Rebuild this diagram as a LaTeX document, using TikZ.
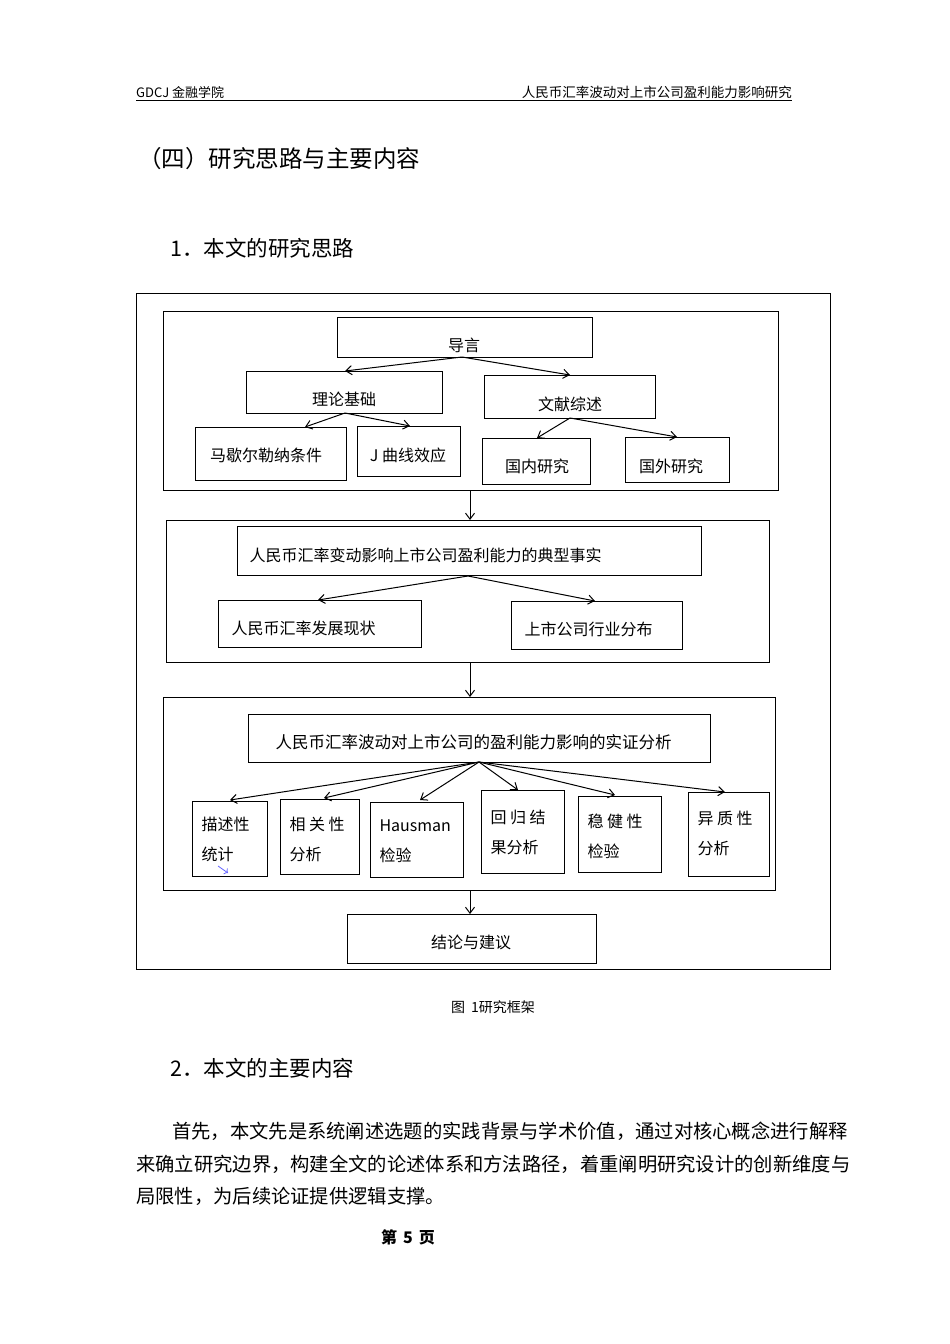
\documentclass[tikz,border=0pt]{standalone}
\usepackage{fontspec}
\setmainfont{Noto Sans CJK SC}
\usetikzlibrary{arrows.meta}
\begin{document}
\begin{tikzpicture}[x=1pt,y=-1pt,
  bx/.style={draw,line width=0.8pt},
  lb/.style={font=\fontsize{16}{19}\selectfont},
  sb/.style={anchor=north west,align=left,font=\fontsize{16}{30}\selectfont},
  ar/.style={-{Straight Barb[length=6pt,width=9pt]},line width=1pt}]
\useasboundingbox[fill=white] (0,0) rectangle (950,1344);
% header
\node[anchor=base west,font=\fontsize{13}{15}\selectfont,inner sep=0] (h1) at (136,97) {GDCJ 金融学院};
\node[anchor=base east,font=\fontsize{13.5}{15}\selectfont,inner sep=0] (h2) at (792,97) {人民币汇率波动对上市公司盈利能力影响研究};
\draw[line width=0.8pt] (136,100) -- (792,100);
\node[anchor=base west,font=\fontsize{23.5}{26}\selectfont,inner sep=0] (t1) at (138,167) {（四）研究思路与主要内容};
\node[anchor=base west,font=\fontsize{21.5}{24}\selectfont,inner sep=0] (t2) at (170,256) {1．本文的研究思路};
% frame
\draw[bx] (136,293) rectangle (830,969);
\draw[bx] (163,311) rectangle (778,490);
\draw[bx] (166,520) rectangle (769,662);
\draw[bx] (163,697) rectangle (775,890);
\coordinate (g1b) at (470,490); \coordinate (g2t) at (470,520);
\coordinate (g2b) at (470,662); \coordinate (g3t) at (470,697);
\coordinate (g3b) at (470,890);
% group 1
\draw[bx] (337,317) rectangle (592,357); \node[lb] (dy) at (464,345) {导言};
\draw[bx] (246,371) rectangle (442,413); \node[lb] (ll) at (344,399) {理论基础};
\draw[bx] (484,375) rectangle (655,418); \node[lb] (wx) at (570,404) {文献综述};
\draw[bx] (195,427) rectangle (346,480); \node[lb] (mx) at (266,455) {马歇尔勒纳条件};
\draw[bx] (357,426) rectangle (460,476); \node[lb] (jq) at (408,455) {J 曲线效应};
\draw[bx] (482,438) rectangle (590,484); \node[lb] (gn) at (537,466) {国内研究};
\draw[bx] (625,437) rectangle (729,482); \node[lb] (gw) at (671,466) {国外研究};
\coordinate (dyb) at (462,357);
\draw[ar] (dyb) -- (345,371); \draw[ar] (dyb) -- (570,375);
\draw[ar] (345,413) -- (305,427); \draw[ar] (345,413) -- (410,426);
\draw[ar] (570,418) -- (537,438); \draw[ar] (570,418) -- (677,437);
\draw[ar] (g1b) -- (g2t);
% group 2
\draw[bx] (237,526) rectangle (701,575); \node[lb,anchor=west] (ss) at (246,555) {人民币汇率变动影响上市公司盈利能力的典型事实};
\draw[bx] (218,600) rectangle (421,647); \node[lb,anchor=west] (xz) at (228,628) {人民币汇率发展现状};
\draw[bx] (511,601) rectangle (682,649); \node[lb,anchor=west] (fb) at (521,629) {上市公司行业分布};
\draw[ar] (468,576) -- (318,600); \draw[ar] (468,576) -- (595,601);
\draw[ar] (g2b) -- (g3t);
% group 3
\draw[bx] (248,714) rectangle (710,762); \node[lb,anchor=west,font=\fontsize{16.5}{19}\selectfont] (sz) at (272,742) {人民币汇率波动对上市公司的盈利能力影响的实证分析};
\draw[bx] (192,801) rectangle (267,876);
\node[sb] (ms) at (198,814) {描述性\\统计};
\draw[bx] (280,799) rectangle (359,874);
\node[sb] (xg) at (286,814) {相 关 性\\分析};
\draw[bx] (370,802) rectangle (463,877);
\node[sb] (hs) at (376,816) {\textrm{Hausman}\\检验};
\draw[bx] (481,790) rectangle (564,873);
\node[sb] (hg) at (487,806) {回 归 结\\果分析};
\draw[bx] (578,796) rectangle (661,872);
\node[sb] (wj) at (584,810) {稳 健 性\\检验};
\draw[bx] (688,792) rectangle (769,876);
\node[sb] (yz) at (694,808) {异 质 性\\分析};
\coordinate (so) at (479,762);
\draw[ar] (so) -- (230,800); \draw[ar] (so) -- (324,798); \draw[ar] (so) -- (420,800);
\draw[ar] (so) -- (518,790); \draw[ar] (so) -- (615,795); \draw[ar] (so) -- (725,792);
\draw[->,blue!60,line width=0.8pt] (218,866) -- (228,873);
\draw[ar] (g3b) -- (470,914);
\draw[bx] (347,914) rectangle (596,963); \node[lb] (jl) at (471,942) {结论与建议};
% caption and text
\node[font=\fontsize{14}{16}\selectfont] (cap) at (493,1007) {图\hspace{6pt}1研究框架};
\node[anchor=base west,font=\fontsize{21.5}{24}\selectfont,inner sep=0] (t3) at (170,1076) {2．本文的主要内容};
\node[anchor=base west,font=\fontsize{19.3}{22}\selectfont,inner sep=0] (p1) at (172,1138) {首先，本文先是系统阐述选题的实践背景与学术价值，通过对核心概念进行解释};
\node[anchor=base west,font=\fontsize{19.3}{22}\selectfont,inner sep=0] (p2) at (136,1171) {来确立研究边界，构建全文的论述体系和方法路径，着重阐明研究设计的创新维度与};
\node[anchor=base west,font=\fontsize{19.3}{22}\selectfont,inner sep=0] (p3) at (136,1203) {局限性，为后续论证提供逻辑支撑。};
\node[anchor=base,font=\bfseries\fontsize{16}{18}\selectfont,inner sep=0] (pg) at (408,1243) {第\hspace{6pt}5\hspace{6pt}页};
\end{tikzpicture}
\end{document}
